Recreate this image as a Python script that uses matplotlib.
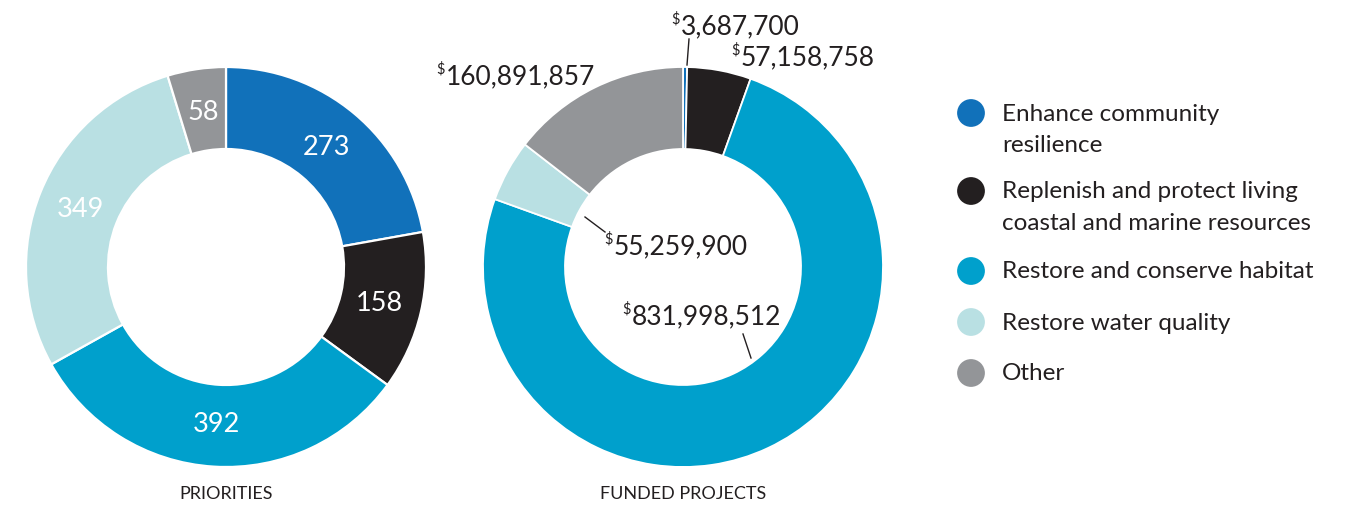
import matplotlib
matplotlib.use("Agg")
import matplotlib.pyplot as plt
import numpy as np

plt.rcParams['font.family'] = ['Lato', 'DejaVu Sans']

categories = ["Enhance community\nresilience",
              "Replenish and protect living\ncoastal and marine resources",
              "Restore and conserve habitat",
              "Restore water quality",
              "Other"]
colors = ["#1171BA", "#231F20", "#00A0CC", "#B9E0E3", "#939598"]
priorities = [273, 158, 392, 349, 58]
funded = [3687700, 57158758, 831998512, 55259900, 160891857]
titles = ["PRIORITIES", "FUNDED PROJECTS"]

W, H = 1359, 506
fig = plt.figure(figsize=(W / 100, H / 100), dpi=100)
ax = fig.add_axes([0, 0, 1, 1])

def Y(py):
    return H - py

R, WIDTH = 200, 82
c1 = (226, Y(268))
c2 = (683, Y(268))

w1, _ = ax.pie(priorities, colors=colors, startangle=90, counterclock=False,
               center=c1, radius=R,
               wedgeprops=dict(width=WIDTH, edgecolor='white', linewidth=1.6))
w2, _ = ax.pie(funded, colors=colors, startangle=90, counterclock=False,
               center=c2, radius=R,
               wedgeprops=dict(width=WIDTH, edgecolor='white', linewidth=1.3))

# left labels inside the ring
rl = R - WIDTH / 2 - 2
for w, v in zip(w1, priorities):
    a = np.deg2rad((w.theta1 + w.theta2) / 2)
    ax.text(c1[0] + rl * np.cos(a), c1[1] + rl * np.sin(a), f"{v}",
            ha='center', va='center', color='white', fontsize=19.5)

# right labels with superscript $
label_pos = [(681, 27), (741, 58), (632, 317), (614, 247), (446, 77)]
for (px, py), v in zip(label_pos, funded):
    ax.text(px, Y(py), f"{v:,}", ha='left', va='center', color='#231F20',
            fontsize=19)
    ax.text(px - 1, Y(py) + 8, "$", ha='right', va='center', color='#231F20',
            fontsize=10.5)

leaders = [((689, 40), (687, 66)), ((585, 218), (605, 233)), ((743, 335), (751, 359))]
for (xa, ya), (xb, yb) in leaders:
    ax.plot([xa, xb], [Y(ya), Y(yb)], color='#231F20', lw=1)

# titles
ax.text(c1[0], Y(494), titles[0], ha='center', va='center', fontsize=13, color='#231F20')
ax.text(c2[0], Y(494), titles[1], ha='center', va='center', fontsize=13, color='#231F20')

# legend
leg_y = [114, 192, 272, 323, 374]
ax.scatter([971] * 5, [Y(y) for y in leg_y], s=400, c=colors, linewidths=0)
for y, lab in zip(leg_y, categories):
    for i, line in enumerate(lab.split("\n")):
        ax.text(1002, Y(y + 32 * i), line, ha='left', va='center',
                fontsize=17.5, color='#231F20')

ax.set_xlim(0, W)
ax.set_ylim(0, H)
ax.set_aspect('equal')
ax.axis('off')
fig.savefig("out.png", dpi=100)
